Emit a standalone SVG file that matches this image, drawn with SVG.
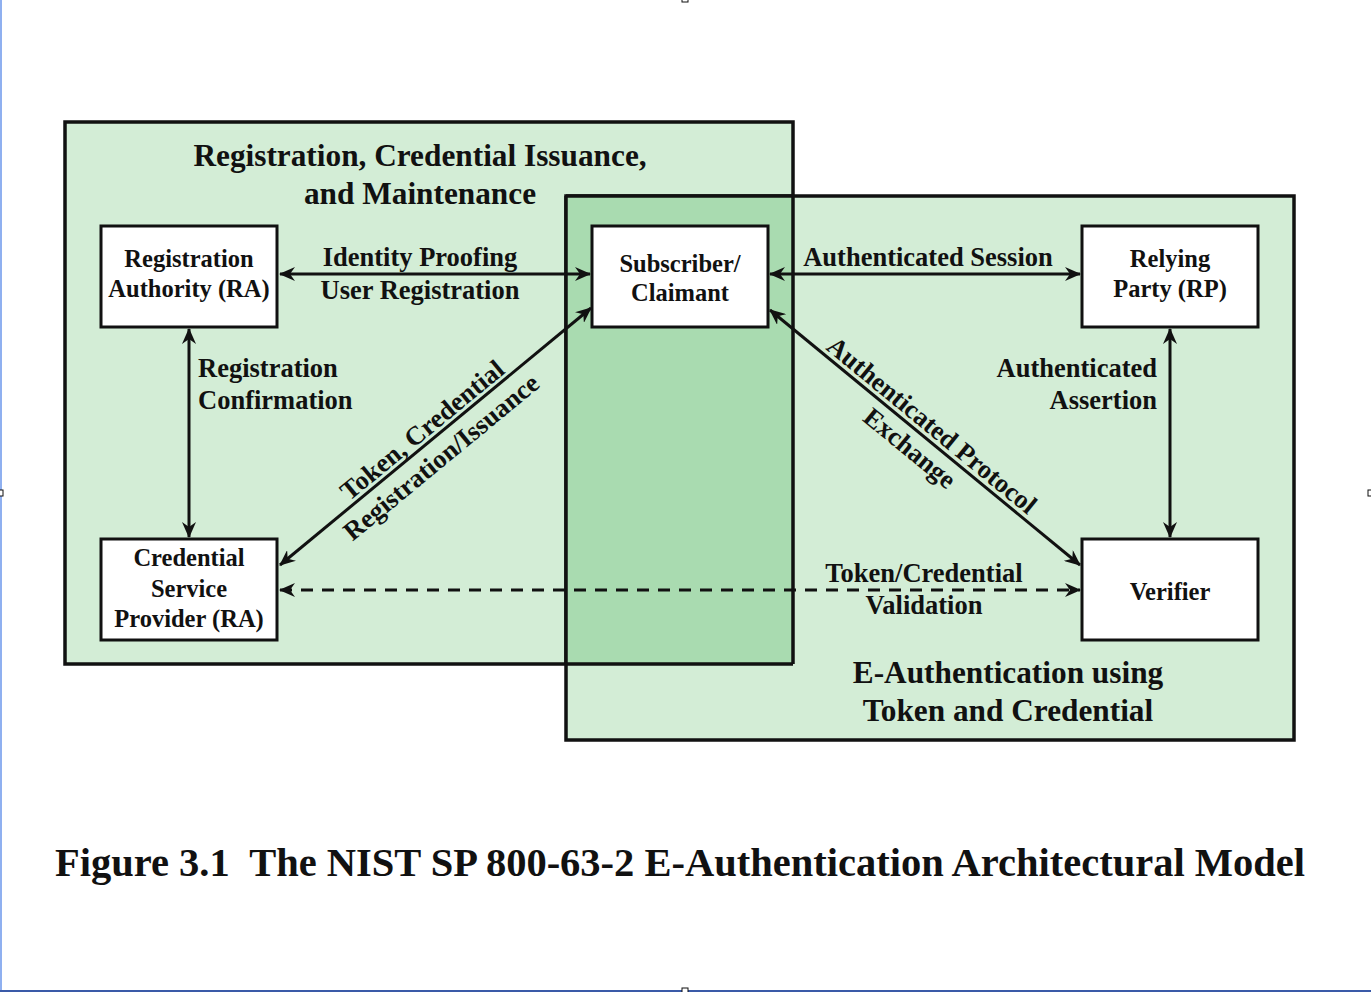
<svg xmlns="http://www.w3.org/2000/svg" width="1371" height="992" viewBox="0 0 1371 992">
<style>
text{font-family:"Liberation Serif","Times New Roman",serif;font-weight:bold;fill:#111}
.n{font-size:24.5px;text-anchor:middle}
.l{font-size:26.5px}
.t{font-size:31.3px;text-anchor:middle}
.c{stroke:#111;stroke-width:3;fill:none}
.box{fill:#fff;stroke:#111;stroke-width:3}
.reg{stroke:#111;stroke-width:3.5}
</style>
<defs>
<marker id="ah" viewBox="0 0 16 14" refX="15" refY="7" markerWidth="16" markerHeight="14" markerUnits="userSpaceOnUse" orient="auto-start-reverse">
<path d="M0,0 L16,7 L0,14 L5,7 z" fill="#111"/>
</marker>
</defs>
<rect width="1371" height="992" fill="#fff"/>
<g id="edge-marks">
<line x1="1" y1="0" x2="1" y2="992" stroke="#8fb0f0" stroke-width="2"/>
<line x1="0" y1="991" x2="1371" y2="991" stroke="#3a5aa8" stroke-width="2"/>
<rect x="682" y="-2" width="6" height="4" fill="#fff" stroke="#111" stroke-width="1"/>
<rect x="682" y="988" width="6" height="5" fill="#fff" stroke="#111" stroke-width="1"/>
<rect x="-2" y="490" width="5" height="6" fill="#fff" stroke="#111" stroke-width="1"/>
<rect x="1368" y="490" width="5" height="6" fill="#fff" stroke="#111" stroke-width="1"/>
</g>
<g id="region-registration">
<rect x="65" y="122" width="728" height="542" fill="#d3edd6" class="reg"/>
</g>
<g id="region-eauth">
<rect x="566" y="196" width="728" height="544" fill="#d3edd6" class="reg"/>
<rect x="566" y="196" width="227" height="468" fill="#a9dbb0"/>
<line x1="793" y1="196" x2="793" y2="664" class="reg"/>
<line x1="566" y1="664" x2="793" y2="664" class="reg"/>
<line x1="566" y1="196" x2="793" y2="196" class="reg"/>
<line x1="566" y1="196" x2="566" y2="664" class="reg"/>
</g>
<g id="titles">
<text class="t" x="420" y="166">Registration, Credential Issuance,</text>
<text class="t" x="420" y="204">and Maintenance</text>
<text class="t" x="1008" y="683">E-Authentication using</text>
<text class="t" x="1008" y="721">Token and Credential</text>
</g>
<g id="connectors">
<line class="c" x1="280" y1="274" x2="590" y2="274" marker-start="url(#ah)" marker-end="url(#ah)"/>
<line class="c" x1="770" y1="274" x2="1080" y2="274" marker-start="url(#ah)" marker-end="url(#ah)"/>
<line class="c" x1="189" y1="329" x2="189" y2="537" marker-start="url(#ah)" marker-end="url(#ah)"/>
<line class="c" x1="1170" y1="329" x2="1170" y2="537" marker-start="url(#ah)" marker-end="url(#ah)"/>
<line class="c" x1="280" y1="565" x2="591" y2="308" marker-start="url(#ah)" marker-end="url(#ah)"/>
<line class="c" x1="770" y1="310" x2="1080" y2="565" marker-start="url(#ah)" marker-end="url(#ah)"/>
<line class="c" x1="280" y1="590" x2="1080" y2="590" stroke-dasharray="12,9" marker-start="url(#ah)" marker-end="url(#ah)"/>
<text class="l" x="420" y="266" text-anchor="middle">Identity Proofing</text>
<text class="l" x="420" y="299" text-anchor="middle">User Registration</text>
<text class="l" x="928" y="266" text-anchor="middle">Authenticated Session</text>
<text class="l" x="198" y="377">Registration</text>
<text class="l" x="198" y="409">Confirmation</text>
<text class="l" x="1157" y="377" text-anchor="end">Authenticated</text>
<text class="l" x="1157" y="409" text-anchor="end">Assertion</text>
<text class="l" x="924" y="582" text-anchor="middle">Token/Credential</text>
<text class="l" x="924" y="614" text-anchor="middle">Validation</text>
<text class="l" text-anchor="middle" transform="translate(422,430) rotate(-39.5) translate(0,9)">Token, Credential</text>
<text class="l" text-anchor="middle" transform="translate(441,457) rotate(-39.5) translate(0,9)">Registration/Issuance</text>
<text class="l" text-anchor="middle" transform="translate(932,425) rotate(39.4) translate(0,9)">Authenticated Protocol</text>
<text class="l" text-anchor="middle" transform="translate(910,448) rotate(39.4) translate(0,9)">Exchange</text>
</g>
<g id="node-ra">
<rect class="box" x="101" y="226" width="176" height="101"/>
<text class="n" x="189" y="267">Registration</text>
<text class="n" x="189" y="297">Authority (RA)</text>
</g>
<g id="node-subscriber">
<rect class="box" x="592" y="226" width="176" height="101"/>
<text class="n" x="680" y="272">Subscriber/</text>
<text class="n" x="680" y="301">Claimant</text>
</g>
<g id="node-rp">
<rect class="box" x="1082" y="226" width="176" height="101"/>
<text class="n" x="1170" y="267">Relying</text>
<text class="n" x="1170" y="297">Party (RP)</text>
</g>
<g id="node-csp">
<rect class="box" x="101" y="539" width="176" height="101"/>
<text class="n" x="189" y="566">Credential</text>
<text class="n" x="189" y="597">Service</text>
<text class="n" x="189" y="627">Provider (RA)</text>
</g>
<g id="node-verifier">
<rect class="box" x="1082" y="539" width="176" height="101"/>
<text class="n" x="1170" y="600">Verifier</text>
</g>
<g id="caption">
<text x="55" y="876" font-size="40" textLength="1250" lengthAdjust="spacingAndGlyphs" xml:space="preserve">Figure 3.1  The NIST SP 800-63-2 E-Authentication Architectural Model</text>
</g>
</svg>
